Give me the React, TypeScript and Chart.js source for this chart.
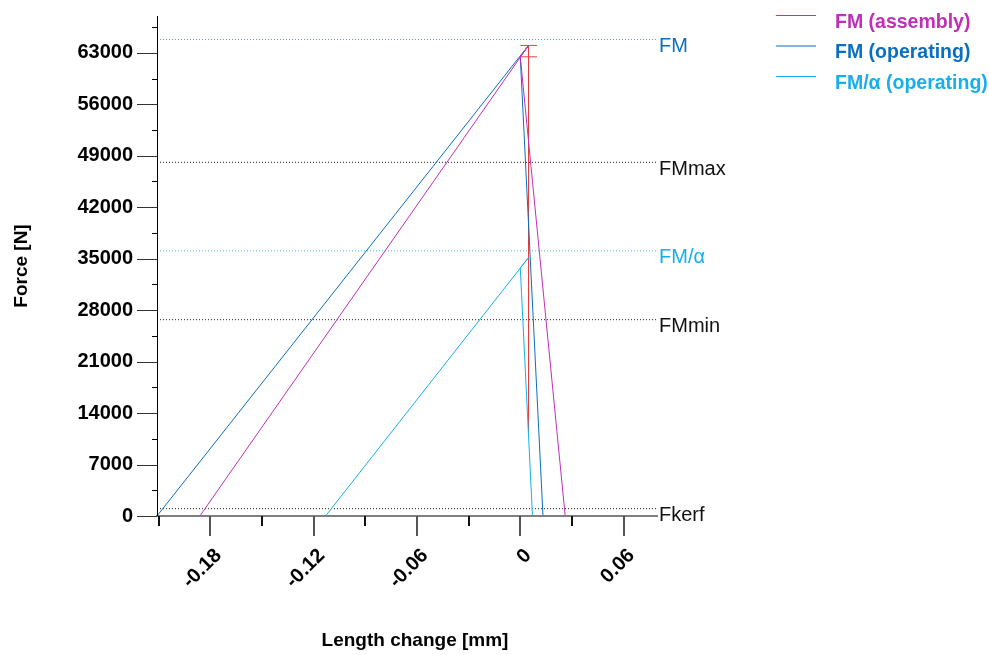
import React, { useEffect, useRef } from 'react';
import { Chart, registerables } from 'chart.js';

Chart.register(...registerables);

// ---- axis ranges / ticks ----
const xMin = -0.211;
const xMax = 0.08;
const xStep = 0.03; // minor step (major = 2 * step)
const yMin = 0;
const yMax = 68000;
const yStep = 3500; // minor step (major = 2 * step)
const xTickLabels = [-0.18, -0.12, -0.06, 0, 0.06];
const yTickLabels = [0, 7000, 14000, 21000, 28000, 35000, 42000, 49000, 56000, 63000];

// ---- series ----
const fmAssemblyX = [-0.1861, 0.0048, 0.0, 0.0261];
const fmAssemblyY = [0, 64000, 62450, 0];
const fmOperatingX = [-0.211, 0.0048, 0.0, 0.0132];
const fmOperatingY = [0, 64000, 62450, 0];
const fmAlphaX = [-0.1131, 0.005, 0.0, 0.0071];
const fmAlphaY = [0, 35200, 33750, 0];
const rangeX = [0.0048, 0.0048];
const rangeY = [64000, 11450];
const capX = [0.0, 0.0097];
const capY = [64000, 62450];

// ---- reference levels ----
const refNames = ['FM', 'FMmax', 'FM/α', 'FMmin', 'Fkerf'];
const refValues = [64800, 48100, 36060, 26700, 1000];

const MAGENTA = '#BF2FB7';
const DARKBLUE = '#0B6FC0';
const LIGHTBLUE = '#16AFEC';
const RED = '#E2413E';
const refLineColors = ['#4E9BD8', '#222222', '#3DB8EE', '#222222', '#222222'];
const refTextColors = [DARKBLUE, '#111111', LIGHTBLUE, '#111111', '#111111'];

const FONT = '"Liberation Sans", Arial, Helvetica, sans-serif';

const pts = (xs: number[], ys: number[]) => xs.map((x, i) => ({ x, y: ys[i] }));

const seriesDs = (label: string, xs: number[], ys: number[], color: string) => ({
  label,
  data: pts(xs, ys),
  showLine: true,
  borderColor: color,
  backgroundColor: color,
  borderWidth: 1,
  pointRadius: 0,
  tension: 0,
  isSeries: true,
});

const axisPlugin = {
  id: 'customAxes',
  afterDraw(chart: any) {
    const { ctx, chartArea, scales } = chart;
    const xs = scales.x;
    const ys = scales.y;
    ctx.save();
    // x axis line (grey)
    ctx.strokeStyle = '#7f7f7f';
    ctx.lineWidth = 2;
    ctx.beginPath();
    ctx.moveTo(chartArea.left - 1, chartArea.bottom);
    ctx.lineTo(chartArea.right, chartArea.bottom);
    ctx.stroke();
    // y axis line
    ctx.strokeStyle = '#000';
    ctx.lineWidth = 1;
    ctx.beginPath();
    ctx.moveTo(chartArea.left + 0.5, chartArea.top);
    ctx.lineTo(chartArea.left + 0.5, chartArea.bottom);
    ctx.stroke();
    // y ticks
    for (let k = Math.ceil(yMin / yStep); k * yStep <= yMax; k++) {
      const v = k * yStep;
      const py = Math.round(ys.getPixelForValue(v)) + 0.5;
      const len = k % 2 === 0 ? 20 : 5;
      ctx.strokeStyle = k % 2 === 0 ? '#333' : '#000';
      ctx.beginPath();
      ctx.moveTo(chartArea.left - len, py);
      ctx.lineTo(chartArea.left, py);
      ctx.stroke();
    }
    // x ticks
    ctx.lineWidth = 2;
    for (let k = Math.ceil(xMin / xStep - 1e-9); k * xStep <= xMax + 1e-9; k++) {
      const v = k * xStep;
      const px = Math.round(xs.getPixelForValue(v));
      const len = k % 2 === 0 ? 20 : 10;
      ctx.strokeStyle = k % 2 === 0 ? '#555' : '#111';
      ctx.beginPath();
      ctx.moveTo(px, chartArea.bottom);
      ctx.lineTo(px, chartArea.bottom + len);
      ctx.stroke();
    }
    // reference labels
    ctx.font = `20px ${FONT}`;
    ctx.textAlign = 'left';
    ctx.textBaseline = 'middle';
    refNames.forEach((name, i) => {
      const py = ys.getPixelForValue(refValues[i]);
      ctx.fillStyle = refTextColors[i];
      ctx.fillText(name, chartArea.right + 1, py + 7);
    });
    // legend
    const series = chart.data.datasets.filter((d: any) => d.isSeries);
    series.forEach((d: any, i: number) => {
      const ly = 15.5 + i * 30.5;
      ctx.strokeStyle = d.borderColor;
      ctx.lineWidth = 1;
      ctx.beginPath();
      ctx.moveTo(776, ly);
      ctx.lineTo(816, ly);
      ctx.stroke();
      ctx.fillStyle = d.borderColor;
      ctx.font = `bold 19.5px ${FONT}`;
      ctx.textAlign = 'left';
      ctx.textBaseline = 'middle';
      ctx.fillText(d.label, 835, ly + 7);
    });
    // x title
    ctx.fillStyle = '#000';
    ctx.font = `bold 19px ${FONT}`;
    ctx.textAlign = 'center';
    ctx.textBaseline = 'middle';
    ctx.fillText('Length change [mm]', chartArea.left + 258, chartArea.bottom + 125);
    ctx.restore();
  },
};

export default function App() {
  const ref = useRef<HTMLCanvasElement>(null);
  useEffect(() => {
    document.body.style.margin = '0';
    const canvas = ref.current!;
    const refDatasets = refNames.map((name, i) => ({
      label: name,
      data: [
        { x: xMin, y: refValues[i] },
        { x: xMax, y: refValues[i] },
      ],
      showLine: true,
      borderColor: refLineColors[i],
      borderWidth: 1,
      borderDash: [1, 2],
      pointRadius: 0,
    }));
    const redDs = (data: any[]) => ({
      label: 'range',
      data,
      showLine: true,
      borderColor: RED,
      borderWidth: 1,
      pointRadius: 0,
    });
    const chart = new Chart(canvas, {
      type: 'scatter',
      data: {
        datasets: [
          seriesDs('FM (assembly)', fmAssemblyX, fmAssemblyY, MAGENTA),
          seriesDs('FM (operating)', fmOperatingX, fmOperatingY, DARKBLUE),
          seriesDs('FM/α (operating)', fmAlphaX, fmAlphaY, LIGHTBLUE),
          redDs(pts(rangeX, rangeY)),
          redDs(pts(capX, [capY[0], capY[0]])),
          redDs(pts(capX, [capY[1], capY[1]])),
          ...refDatasets,
        ] as any,
      },
      options: {
        responsive: false,
        animation: false,
        devicePixelRatio: 1,
        layout: { padding: { top: 16, right: 331, left: 0, bottom: 0 } },
        plugins: { legend: { display: false }, tooltip: { enabled: false } },
        scales: {
          x: {
            type: 'linear',
            min: xMin,
            max: xMax,
            afterBuildTicks: (s: any) => {
              s.ticks = xTickLabels.map((v) => ({ value: v }));
            },
            afterFit: (s: any) => {
              s.height = 139;
            },
            grid: { display: false, drawTicks: false },
            border: { display: false },
            ticks: {
              autoSkip: false,
              minRotation: 45,
              maxRotation: 45,
              padding: 28,
              labelOffset: 8,
              color: '#000',
              font: { size: 20, weight: 'bold', family: FONT },
              callback: (v: any) => (Math.abs(v) < 1e-9 ? '0' : Number(v).toFixed(2)),
            },
          },
          y: {
            type: 'linear',
            min: yMin,
            max: yMax,
            afterBuildTicks: (s: any) => {
              s.ticks = yTickLabels.map((v) => ({ value: v }));
            },
            afterFit: (s: any) => {
              s.width = 157;
            },
            grid: { display: false, drawTicks: true, tickLength: 20 },
            border: { display: false },
            ticks: {
              autoSkip: false,
              padding: 4,
              color: '#000',
              font: { size: 20, weight: 'bold', family: FONT },
              callback: (v: any) => String(v),
            },
            title: {
              display: true,
              text: 'Force [N]',
              color: '#000',
              font: { size: 19, weight: 'bold', family: FONT },
              padding: { top: 10, bottom: 0 },
            },
          },
        },
      } as any,
      plugins: [axisPlugin],
    });
    return () => chart.destroy();
  }, []);
  return <canvas ref={ref} width={989} height={655} style={{ display: 'block' }} />;
}
